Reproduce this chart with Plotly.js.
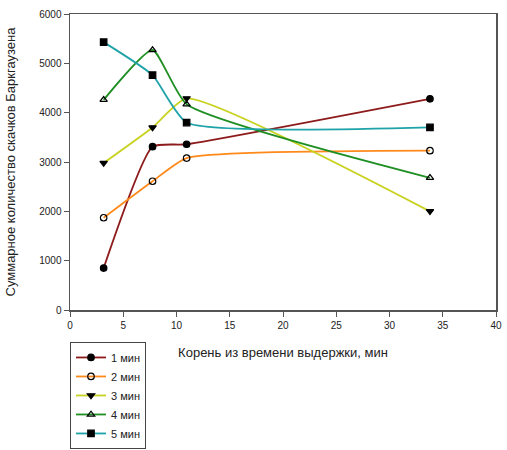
<!DOCTYPE html>
<html><head><meta charset="utf-8">
<script src="https://cdn.plot.ly/plotly-3.0.1.min.js"></script>
<style>html,body{margin:0;padding:0;background:#fff}#c{width:507px;height:450px}</style>
</head><body><div id="c"></div>
<script>
const xVals = [3.16, 7.75, 10.95, 33.8];
const seriesNames = ["1 мин", "2 мин", "3 мин", "4 мин", "5 мин"];
const s1 = [850, 3310, 3360, 4280];
const s2 = [1870, 2610, 3080, 3230];
const s3 = [2980, 3700, 4290, 2000];
const s4 = [4260, 5270, 4170, 2680];
const s5 = [5430, 4760, 3800, 3700];
const xTitle = "Корень из времени выдержки, мин";
const yTitle = "Суммарное количество скачков Баркгаузена";

const allY = [s1, s2, s3, s4, s5];
const colors = ["#8e1b1b", "#ff8a1c", "#c8d21e", "#1f8f23", "#1fa3a8"];
const symbols = ["circle", "circle-open", "triangle-down", "triangle-up-open", "square"];
const traces = allY.map((y, i) => ({
  x: xVals, y: y, name: seriesNames[i], type: "scatter", mode: "lines+markers",
  line: {color: colors[i], width: 1.8, shape: "spline", smoothing: 0.5},
  marker: {symbol: symbols[i], color: "#000", size: 6.5, line: {color: "#000", width: 1.2}}
}));

const FONT = "Liberation Sans, Arial, sans-serif";
const axisCommon = {showgrid: false, zeroline: false, showline: true, mirror: true,
  linecolor: "#555", linewidth: 1.5, ticks: "outside", ticklen: 5, tickcolor: "#555",
  tickfont: {family: FONT, size: 10, color: "#222"}};

const layout = {
  width: 507, height: 450,
  margin: {l: 70, r: 11, t: 14, b: 140, autoexpand: false},
  paper_bgcolor: "#fff", plot_bgcolor: "#fff",
  showlegend: true,
  xaxis: Object.assign({}, axisCommon, {range: [0, 40], dtick: 5,
    title: {text: xTitle, standoff: 18, font: {family: FONT, size: 13, color: "#222"}}}),
  yaxis: Object.assign({}, axisCommon, {range: [0, 6000], dtick: 1000,
    title: {text: yTitle, standoff: 20, font: {family: FONT, size: 13, color: "#222"}}}),
  legend: {x: 0, y: -0.108, xanchor: "left", yanchor: "top", bgcolor: "#fff",
    bordercolor: "#444", borderwidth: 1, tracegroupgap: 0,
    font: {family: FONT, size: 11, color: "#222"}}
};
Plotly.newPlot("c", traces, layout, {displayModeBar: false, staticPlot: true});
</script></body></html>
